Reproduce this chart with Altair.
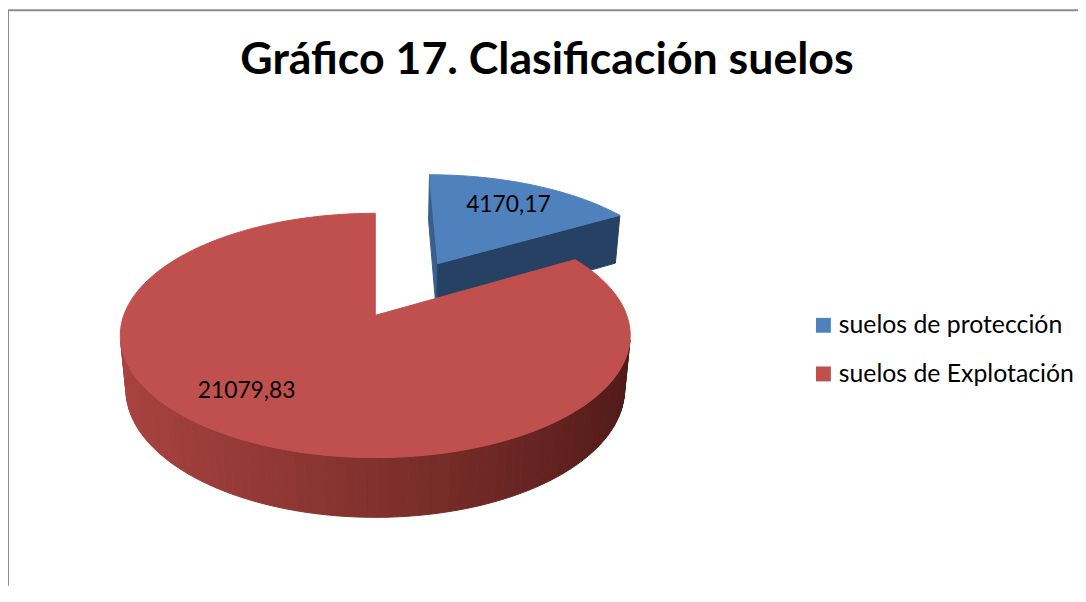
import math
import altair as alt
import pandas as pd

# ---------------- data ----------------
TITLE = "Gráfico 17. Clasificación suelos"
CATEGORIES = ["suelos de protección", "suelos de Explotación"]
VALUES = [4170.17, 21079.83]
EXPLODE = [0.54, 0.0]
LABEL_RADIUS = [0.72, 0.74]
LABEL_FRAC = [0.5, 0.53]

# ---------------- style ----------------
TOP_COLORS = ["#4F81BD", "#C0504D"]
SIDE_LIGHT = ["#3A5F8C", "#A8433F"]
SIDE_DARK = ["#1E3552", "#4E1917"]
FONT = "Lato"

W, H = 1078, 580
CX, CY = 370.0, 307.5      # plot position of the pie centre
S = 1358.0                 # projection scale
D = 5.36                   # camera distance
ALPHA = math.radians(28.2) # elevation
THICK = 0.245              # pie thickness
ca, sa = math.cos(ALPHA), math.sin(ALPHA)
CAM = (0.0, -D * ca, D * sa)


def proj(X, Z, h):
    w = D + Z * ca - h * sa
    return X / w, (Z * sa + h * ca) / w


def hex2rgb(c):
    return tuple(int(c[i:i + 2], 16) for i in (1, 3, 5))


def mix(c1, c2, t):
    a, b = hex2rgb(c1), hex2rgb(c2)
    return "#%02x%02x%02x" % tuple(round(x + (y - x) * t) for x, y in zip(a, b))


total = sum(VALUES)
rows = []
label_rows = []
fid = 0


def add_face(i, kind, pts, color):
    global fid
    for k, (X, Z, h) in enumerate(pts + [pts[0]]):
        u, v = proj(X, Z, h)
        rows.append(dict(face=fid, ord=k, u=u, v=v, fc=color, slice=i, kind=kind))
    fid += 1


start = 0.0
for i, val in enumerate(VALUES):
    t0 = start
    t1 = start + 360.0 * val / total
    start = t1
    mid = math.radians((t0 + t1) / 2)
    ox, oz = EXPLODE[i] * math.sin(mid), EXPLODE[i] * math.cos(mid)
    r0, r1 = math.radians(t0), math.radians(t1)

    def rim(a, h, ox=ox, oz=oz):
        return (ox + math.sin(a), oz + math.cos(a), h)

    apex_t = (ox, oz, 0.0)
    apex_b = (ox, oz, -THICK)
    walls = []
    nseg = max(4, int(round((t1 - t0) / 2)))
    for k in range(nseg):
        a = r0 + (r1 - r0) * k / nseg
        b = r0 + (r1 - r0) * (k + 1) / nseg
        m = (a + b) / 2
        nx, nz = math.sin(m), math.cos(m)
        px, pz = ox + nx, oz + nz
        if (CAM[0] - px) * nx + (CAM[1] - pz) * nz > 0:
            walls.append(([rim(a, 0.0), rim(b, 0.0), rim(b, -THICK), rim(a, -THICK)], nx))
    for a, (nx, nz) in ((r0, (-math.cos(r0), math.sin(r0))),
                        (r1, (math.cos(r1), -math.sin(r1)))):
        px, pz = ox + 0.5 * math.sin(a), oz + 0.5 * math.cos(a)
        if (CAM[0] - px) * nx + (CAM[1] - pz) * nz > 1e-9:
            walls.append(([apex_t, rim(a, 0.0), rim(a, -THICK), apex_b], nx))
    for pts, nx in walls:
        t = ((nx + 1) / 2) ** 1.2
        add_face(i, "wall", pts, mix(SIDE_LIGHT[i], SIDE_DARK[i], t))
    ntop = max(8, int(round(t1 - t0)))
    top = [apex_t] + [rim(r0 + (r1 - r0) * k / ntop, 0.0) for k in range(ntop + 1)]
    add_face(i, "top", top, TOP_COLORS[i])

    la = math.radians(t0 + (t1 - t0) * LABEL_FRAC[i])
    lu, lv = proj(ox + LABEL_RADIUS[i] * math.sin(la), oz + LABEL_RADIUS[i] * math.cos(la), 0.0)
    label_rows.append(dict(u=lu, v=lv, cat=CATEGORIES[i],
                           txt=f"{val:.2f}".replace(".", ",")))

faces = pd.DataFrame(rows)
labels = pd.DataFrame(label_rows)

xs = alt.Scale(domain=[(0 - CX) / S, (W - CX) / S], nice=False, zero=False)
ys = alt.Scale(domain=[(CY - H) / S, CY / S], nice=False, zero=False)


def poly_layer(df):
    return alt.Chart(df).mark_line(filled=True, strokeWidth=1, strokeJoin="round").encode(
        x=alt.X("u:Q", scale=xs, axis=None),
        y=alt.Y("v:Q", scale=ys, axis=None),
        detail="face:N",
        order="ord:Q",
        fill=alt.Fill("fc:N", scale=None),
        stroke=alt.Stroke("fc:N", scale=None),
    )


layers = []
for i in range(len(VALUES)):
    sub = faces[faces["slice"] == i]
    w_df = sub[sub["kind"] == "wall"]
    if len(w_df):
        layers.append(poly_layer(w_df))
    layers.append(poly_layer(sub[sub["kind"] == "top"]))

text_layer = alt.Chart(labels).mark_text(font=FONT, fontSize=23, color="black",
                                         align="center", baseline="middle").encode(
    x=alt.X("u:Q", scale=xs, axis=None),
    y=alt.Y("v:Q", scale=ys, axis=None),
    text="txt:N",
)

legend_layer = alt.Chart(labels).mark_square(opacity=0, size=10).encode(
    x=alt.X("u:Q", scale=xs, axis=None),
    y=alt.Y("v:Q", scale=ys, axis=None),
    color=alt.Color("cat:N", scale=alt.Scale(domain=CATEGORIES, range=TOP_COLORS),
                    legend=alt.Legend(title=None, orient="none", legendX=809, legendY=305,
                                      symbolType="square", symbolSize=225,
                                      symbolOpacity=1, symbolStrokeWidth=0,
                                      labelFont=FONT, labelFontSize=25, labelColor="black",
                                      labelOffset=3, rowPadding=23, padding=0,
                                      labelLimit=400)),
)

border = alt.Data(values=[{"a": 1}])
top_rule = alt.Chart(border).mark_rule(color="#8C8C8C", strokeWidth=2).encode(
    x=alt.value(0), x2=alt.value(W), y=alt.value(0))
left_rule = alt.Chart(border).mark_rule(color="#8C8C8C", strokeWidth=2).encode(
    x=alt.value(0), y=alt.value(0), y2=alt.value(H))

chart = alt.layer(*layers, text_layer, legend_layer, top_rule, left_rule).properties(
    width=W, height=H,
    padding=0,
    autosize=alt.AutoSizeParams(type="none"),
    background="white",
    title=alt.Title(TITLE, font=FONT, fontSize=45, fontWeight="bold", color="black",
                    anchor="middle", frame="group", offset=0, baseline="alphabetic",
                    dy=110, dx=4),
).configure_view(stroke=None)

chart.save("out.html", embed_options={"renderer": "svg", "actions": False})
